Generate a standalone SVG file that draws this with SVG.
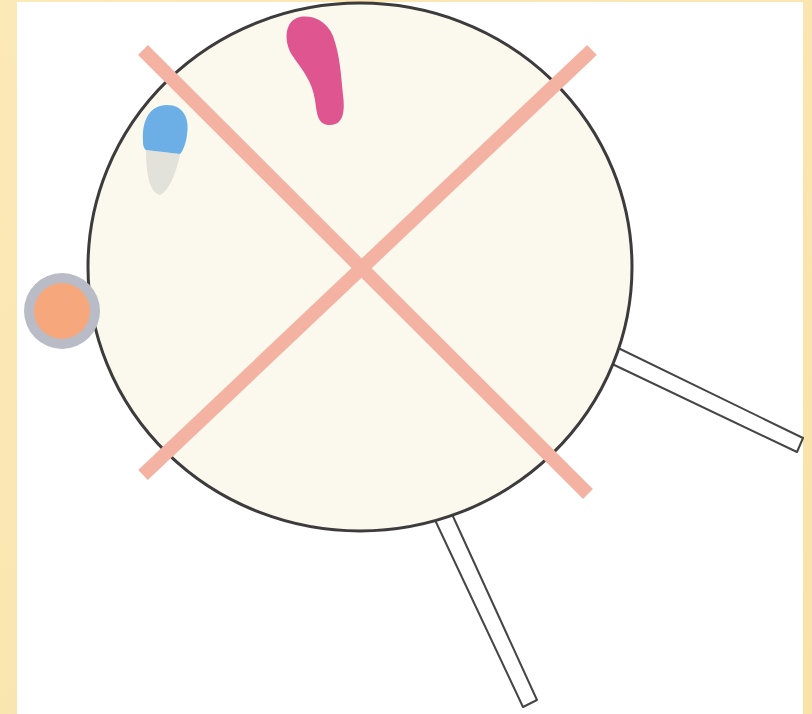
<svg xmlns="http://www.w3.org/2000/svg" width="812" height="714" viewBox="0 0 812 714">
  <defs>
    <style>
      .leg { fill: #ffffff; stroke: #454545; stroke-width: 2; stroke-linejoin: round; }
      .cross { stroke: #f4b2a3; stroke-width: 14; stroke-linecap: butt; }
    </style>
    <linearGradient id="frame" x1="0" y1="0" x2="1" y2="1">
      <stop offset="0" stop-color="#fce9b8"/>
      <stop offset="1" stop-color="#f8e2a8"/>
    </linearGradient>
  </defs>
  <rect x="0" y="0" width="812" height="714" fill="url(#frame)"/>
  <rect x="17" y="2" width="786" height="712" fill="#ffffff"/>

  <g id="legs">
    <polygon class="leg" points="612,345 803,438 797,452 608,362"/>
    <polygon class="leg" points="435,520 451,512 537,700 523,707"/>
  </g>

  <g id="table">
    <ellipse cx="360" cy="267" rx="272" ry="264" fill="#fbf9ee" stroke="#3d3b3c" stroke-width="3"/>
  </g>

  <g id="cross">
    <line class="cross" x1="143" y1="50" x2="588" y2="494"/>
    <line class="cross" x1="592" y1="50" x2="143" y2="475"/>
  </g>

  <g id="pink-blob">
    <path d="M 300 17 C 285 20, 283 40, 292 55 C 302 70, 312 80, 315 100 C 317 115, 318 125, 330 125 C 344 125, 345 110, 343 95 C 341 75, 340 55, 333 36 C 326 20, 312 15, 300 17 Z" fill="#df5590"/>
  </g>

  <g id="blue-blob">
    <path d="M 146 150 L 180 154 C 177 170, 170 190, 160 195 C 150 193, 146 175, 146 150 Z" fill="#e2e2da"/>
    <path d="M 143 140 C 142 120, 150 105, 167 105 C 183 105, 190 118, 187 135 C 186 143, 183 151, 180 154 L 146 150 C 143 147, 143 145, 143 140 Z" fill="#6caee6"/>
  </g>

  <g id="orange-dot">
    <circle cx="62" cy="311" r="38" fill="#b9bcc6"/>
    <circle cx="62" cy="311" r="28" fill="#f6a87c"/>
  </g>
</svg>
